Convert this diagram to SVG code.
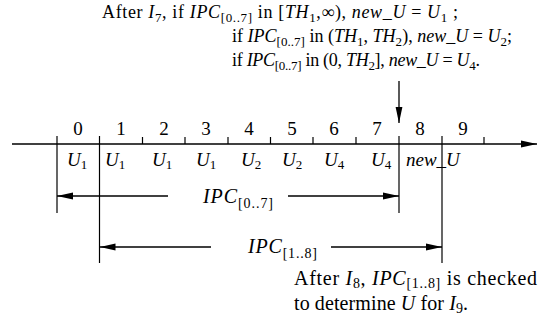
<svg xmlns="http://www.w3.org/2000/svg" width="544" height="323" viewBox="0 0 544 323">
<style>
text{font-family:"Liberation Serif","Times New Roman",serif;fill:#000;font-size:19px}
.top{font-size:18px}
.big{font-size:20px}
.i{font-style:italic}
.s{font-size:13px}
.s2{font-size:14px}
.ln{stroke:#000;stroke-width:1.3;fill:none}
.tk{stroke:#000;stroke-width:1.2}
</style>
<defs>
<marker id="ah" markerWidth="16" markerHeight="8" refX="16" refY="4" orient="auto" markerUnits="userSpaceOnUse">
<path d="M0,0.6 L16,4 L0,7.4 Z" fill="#000"/>
</marker>
</defs>
<rect width="544" height="323" fill="#fff"/>

<g id="top-note">
<text class="top" x="102" y="18" textLength="356" lengthAdjust="spacing">After <tspan class="i">I</tspan><tspan class="s" dy="4">7</tspan><tspan dy="-4">, if </tspan><tspan class="i">IPC</tspan><tspan class="s" dy="4">[0..7]</tspan><tspan dy="-4"> in [</tspan><tspan class="i">TH</tspan><tspan class="s" dy="4">1</tspan><tspan dy="-4">,∞), </tspan><tspan class="i">new_U</tspan> = <tspan class="i">U</tspan><tspan class="s" dy="4">1</tspan><tspan dy="-4"> ;</tspan></text>
<text class="top" x="232" y="42" textLength="280" lengthAdjust="spacing">if <tspan class="i">IPC</tspan><tspan class="s" dy="4">[0..7]</tspan><tspan dy="-4"> in (</tspan><tspan class="i">TH</tspan><tspan class="s" dy="4">1</tspan><tspan dy="-4">, </tspan><tspan class="i">TH</tspan><tspan class="s" dy="4">2</tspan><tspan dy="-4">), </tspan><tspan class="i">new_U</tspan> = <tspan class="i">U</tspan><tspan class="s" dy="4">2</tspan><tspan dy="-4">;</tspan></text>
<text class="top" x="232" y="66" textLength="248" lengthAdjust="spacing">if <tspan class="i">IPC</tspan><tspan class="s" dy="4">[0..7]</tspan><tspan dy="-4"> in (0, </tspan><tspan class="i">TH</tspan><tspan class="s" dy="4">2</tspan><tspan dy="-4">], </tspan><tspan class="i">new_U</tspan> = <tspan class="i">U</tspan><tspan class="s" dy="4">4</tspan><tspan dy="-4">.</tspan></text>
</g>

<g id="connectors">
<line class="ln" x1="399" y1="81" x2="399" y2="123" marker-end="url(#ah)"/>
<line class="ln" x1="12" y1="144" x2="537" y2="144" marker-end="url(#ah)"/>
<line class="ln" x1="168" y1="196" x2="57" y2="196" marker-end="url(#ah)"/>
<line class="ln" x1="288" y1="196" x2="399" y2="196" marker-end="url(#ah)"/>
<line class="ln" x1="211" y1="247" x2="99.5" y2="247" marker-end="url(#ah)"/>
<line class="ln" x1="331" y1="247" x2="442" y2="247" marker-end="url(#ah)"/>
</g>

<g id="axis-ticks">
<line class="tk" x1="57" y1="136" x2="57" y2="213"/>
<line class="tk" x1="99.5" y1="136" x2="99.5" y2="263"/>
<line class="tk" x1="142.5" y1="137" x2="142.5" y2="144"/>
<line class="tk" x1="185" y1="137" x2="185" y2="144"/>
<line class="tk" x1="228" y1="137" x2="228" y2="144"/>
<line class="tk" x1="270.5" y1="137" x2="270.5" y2="144"/>
<line class="tk" x1="313" y1="137" x2="313" y2="144"/>
<line class="tk" x1="356" y1="137" x2="356" y2="144"/>
<line class="tk" x1="399" y1="136" x2="399" y2="213"/>
<line class="tk" x1="442" y1="136" x2="442" y2="263"/>
<line class="tk" x1="484" y1="137" x2="484" y2="144"/>
</g>

<g id="slot-numbers" text-anchor="middle">
<text x="78" y="135">0</text>
<text x="121" y="135">1</text>
<text x="164" y="135">2</text>
<text x="206" y="135">3</text>
<text x="249" y="135">4</text>
<text x="292" y="135">5</text>
<text x="334" y="135">6</text>
<text x="377" y="135">7</text>
<text x="420" y="135">8</text>
<text x="463" y="135">9</text>
</g>

<g id="slot-values">
<text x="67" y="166"><tspan class="i">U</tspan><tspan class="s" dy="3">1</tspan></text>
<text x="105" y="166"><tspan class="i">U</tspan><tspan class="s" dy="3">1</tspan></text>
<text x="152" y="166"><tspan class="i">U</tspan><tspan class="s" dy="3">1</tspan></text>
<text x="196" y="166"><tspan class="i">U</tspan><tspan class="s" dy="3">1</tspan></text>
<text x="241" y="166"><tspan class="i">U</tspan><tspan class="s" dy="3">2</tspan></text>
<text x="282" y="166"><tspan class="i">U</tspan><tspan class="s" dy="3">2</tspan></text>
<text x="324" y="166"><tspan class="i">U</tspan><tspan class="s" dy="3">4</tspan></text>
<text x="371" y="166"><tspan class="i">U</tspan><tspan class="s" dy="3">4</tspan></text>
<text x="406" y="166" class="i">new_U</text>
</g>

<g id="ipc07-label">
<text class="big" x="203" y="203" textLength="70" lengthAdjust="spacing"><tspan class="i">IPC</tspan><tspan class="s2" dy="5">[0..7]</tspan></text>
</g>
<g id="ipc18-label">
<text class="big" x="248" y="253" textLength="69" lengthAdjust="spacing"><tspan class="i">IPC</tspan><tspan class="s2" dy="5">[1..8]</tspan></text>
</g>

<g id="bottom-note">
<text class="big" x="294" y="285" textLength="243" lengthAdjust="spacing">After <tspan class="i">I</tspan><tspan class="s2" dy="3">8</tspan><tspan dy="-3">, </tspan><tspan class="i">IPC</tspan><tspan class="s2" dy="3">[1..8]</tspan><tspan dy="-3"> is checked</tspan></text>
<text class="big" x="294" y="310" textLength="174" lengthAdjust="spacing">to determine <tspan class="i">U</tspan> for <tspan class="i">I</tspan><tspan class="s2" dy="3">9</tspan><tspan dy="-3">.</tspan></text>
</g>
</svg>
